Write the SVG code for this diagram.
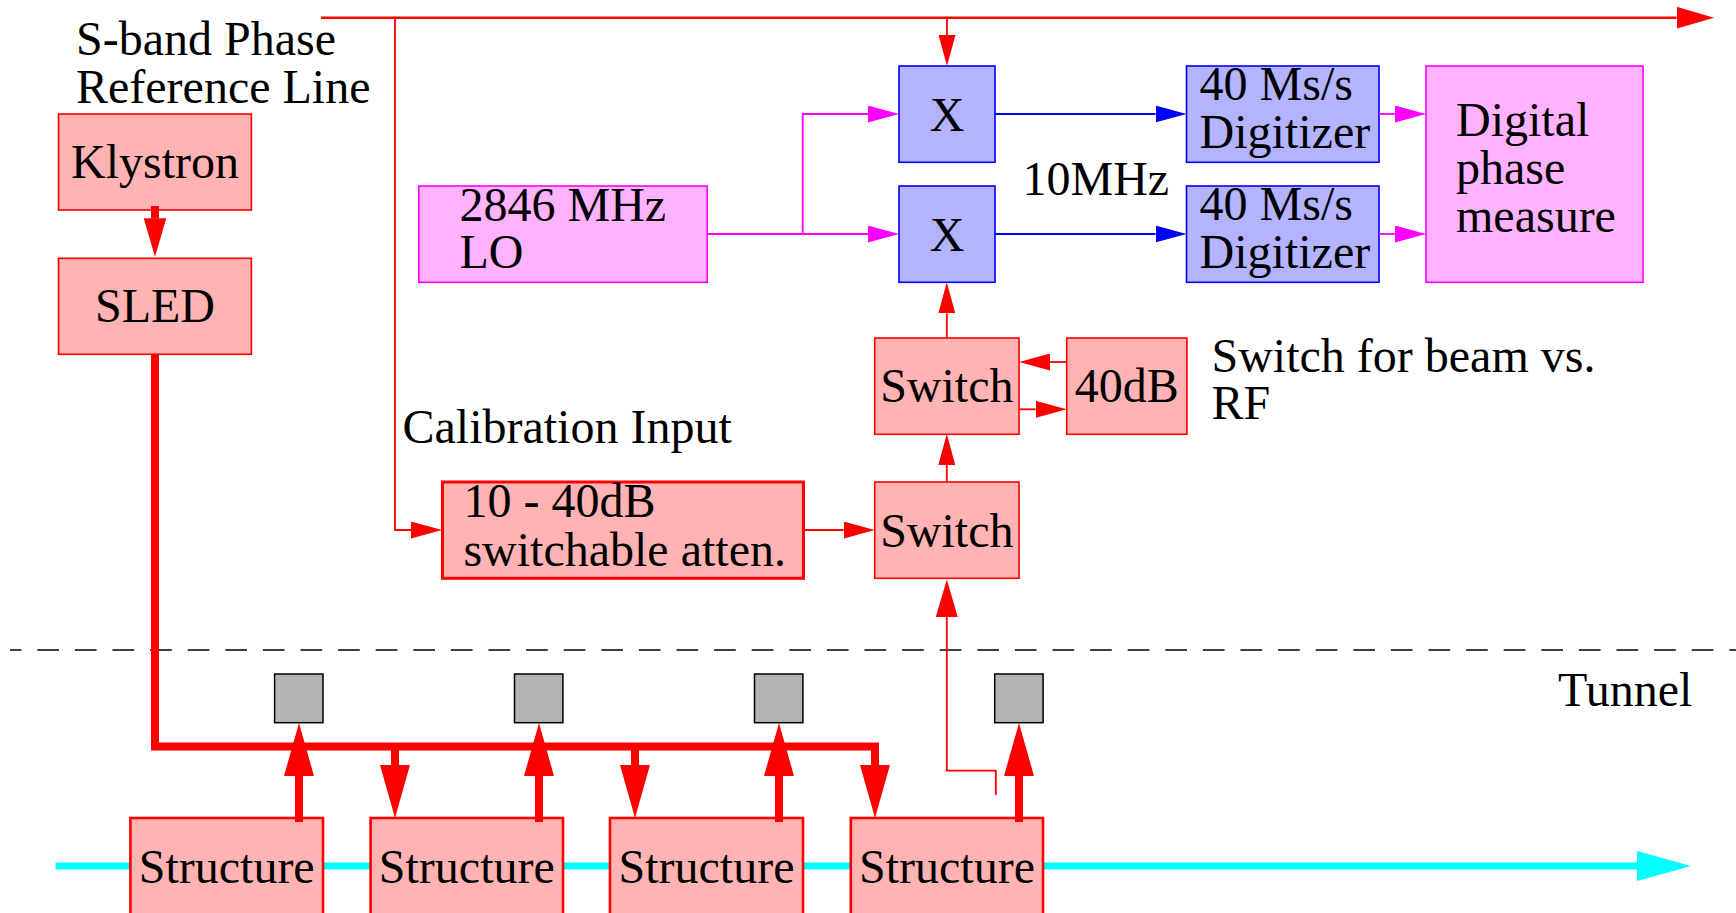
<svg xmlns="http://www.w3.org/2000/svg" width="1736" height="913" viewBox="0 0 1736 913">
<style>
text{font-family:"Liberation Serif","Times New Roman",serif;font-size:48px;fill:#000}
.mid{text-anchor:middle}
.red{fill:#ffb3b3;stroke:#ff0000;stroke-width:1.6}
.redb{fill:#ffb3b3;stroke:#ff0000;stroke-width:3}
.reds{fill:#ffb3b3;stroke:#ff0000;stroke-width:2.6}
.blu{fill:#b3b3ff;stroke:#0000ff;stroke-width:1.6}
.mag{fill:#ffb3ff;stroke:#ff00ff;stroke-width:1.6}
.gry{fill:#b3b3b3;stroke:#000;stroke-width:1.5}
.w{fill:none}
.lr{stroke:#ff0000;stroke-width:1.8}
.lrt{stroke:#ff0000;stroke-width:2.4}
.lrk{stroke:#ff0000;stroke-width:8}
.lm{stroke:#ff00ff;stroke-width:1.8}
.lb{stroke:#0000ff;stroke-width:1.8}
.lc{stroke:#00ffff;stroke-width:7}
</style>
<defs>
<marker id="aR" markerUnits="userSpaceOnUse" markerWidth="31" markerHeight="17" refX="0" refY="8.5" orient="auto"><path d="M0,0 L31,8.5 L0,17 z" fill="#ff0000"/></marker>
<marker id="aRL" markerUnits="userSpaceOnUse" markerWidth="37.5" markerHeight="22" refX="0" refY="11" orient="auto"><path d="M0,0 L37.5,11 L0,22 z" fill="#ff0000"/></marker>
<marker id="aK" markerUnits="userSpaceOnUse" markerWidth="38.5" markerHeight="22.6" refX="0" refY="11.3" orient="auto"><path d="M0,0 L38.5,11.3 L0,22.6 z" fill="#ff0000"/></marker>
<marker id="aT" markerUnits="userSpaceOnUse" markerWidth="53" markerHeight="30" refX="0" refY="15" orient="auto"><path d="M0,0 L53,15 L0,30 z" fill="#ff0000"/></marker>
<marker id="aM" markerUnits="userSpaceOnUse" markerWidth="31" markerHeight="17" refX="0" refY="8.5" orient="auto"><path d="M0,0 L31,8.5 L0,17 z" fill="#ff00ff"/></marker>
<marker id="aB" markerUnits="userSpaceOnUse" markerWidth="31" markerHeight="17" refX="0" refY="8.5" orient="auto"><path d="M0,0 L31,8.5 L0,17 z" fill="#0000ff"/></marker>
<marker id="aC" markerUnits="userSpaceOnUse" markerWidth="54" markerHeight="30" refX="0" refY="15" orient="auto"><path d="M0,0 L54,15 L0,30 z" fill="#00ffff"/></marker>
</defs>
<rect width="1736" height="913" fill="#fff"/>

<g id="beam">
<path class="w lc" d="M55.5,866 H1637" marker-end="url(#aC)"/>
</g>
<g id="tunnel-boundary">
<line x1="10" y1="650" x2="1736" y2="650" stroke="#000" stroke-width="1.6" stroke-dasharray="21.7 15.9" stroke-dashoffset="10.3"/>
</g>

<g id="labels">
<text x="76" y="55">S-band Phase</text>
<text x="76" y="103">Reference Line</text>
<text x="1022.5" y="195">10MHz</text>
<text x="402.5" y="442.7">Calibration Input</text>
<text x="1211.5" y="371.7">Switch for beam vs.</text>
<text x="1211.5" y="419">RF</text>
<text x="1558" y="706">Tunnel</text>
</g>

<g id="klystron"><rect class="red" x="58.5" y="114" width="192.9" height="96"/><text class="mid" x="155" y="178.3">Klystron</text></g>
<g id="sled"><rect class="red" x="58.5" y="258.3" width="192.9" height="96"/><text class="mid" x="155" y="321.7">SLED</text></g>
<g id="lo"><rect class="mag" x="418.8" y="186" width="288.4" height="96.3"/><text x="459.5" y="220.7">2846 MHz</text><text x="459.5" y="268.3">LO</text></g>
<g id="mixer1"><rect class="blu" x="899" y="66" width="96" height="96.3"/><text class="mid" x="947" y="130.7">X</text></g>
<g id="mixer2"><rect class="blu" x="899" y="186" width="96" height="96.3"/><text class="mid" x="947" y="250.7">X</text></g>
<g id="digitizer1"><rect class="blu" x="1186.5" y="66" width="192.5" height="96.3"/><text x="1199.6" y="100">40 Ms/s</text><text x="1199.6" y="147.7">Digitizer</text></g>
<g id="digitizer2"><rect class="blu" x="1186.5" y="186" width="192.5" height="96.3"/><text x="1199.6" y="220">40 Ms/s</text><text x="1199.6" y="267.7">Digitizer</text></g>
<g id="phase-measure"><rect class="mag" x="1426" y="66" width="217" height="216.3"/><text x="1456" y="136">Digital</text><text x="1456" y="184">phase</text><text x="1456" y="232">measure</text></g>
<g id="switch-upper"><rect class="red" x="874.7" y="338" width="144.3" height="96.3"/><text class="mid" x="946.8" y="401.7">Switch</text></g>
<g id="atten40"><rect class="red" x="1066.7" y="338" width="120.2" height="96.3"/><text class="mid" x="1126.8" y="401.7">40dB</text></g>
<g id="switch-lower"><rect class="red" x="874.7" y="482" width="144.3" height="96.3"/><text class="mid" x="946.8" y="546.7">Switch</text></g>
<g id="atten"><rect class="redb" x="442.5" y="482" width="361" height="96.3"/><text x="463.4" y="517.3">10 - 40dB</text><text x="463.4" y="565.7">switchable atten.</text></g>
<g id="structure1"><rect class="reds" x="130.4" y="818" width="192.6" height="120"/><text class="mid" x="226.7" y="883">Structure</text></g>
<g id="structure2"><rect class="reds" x="370.6" y="818" width="192.4" height="120"/><text class="mid" x="466.8" y="883">Structure</text></g>
<g id="structure3"><rect class="reds" x="610" y="818" width="193" height="120"/><text class="mid" x="706.5" y="883">Structure</text></g>
<g id="structure4"><rect class="reds" x="850.8" y="818" width="192.2" height="120"/><text class="mid" x="947" y="883">Structure</text></g>
<g id="pickup1"><rect class="gry" x="274.6" y="674" width="48.4" height="48.7"/></g>
<g id="pickup2"><rect class="gry" x="514.5" y="674" width="48.4" height="48.7"/></g>
<g id="pickup3"><rect class="gry" x="754.5" y="674" width="48.4" height="48.7"/></g>
<g id="pickup4"><rect class="gry" x="994.7" y="674" width="48.4" height="48.7"/></g>

<g id="connectors" fill="none">
<path class="lrt" d="M321,17.7 H1676.5" marker-end="url(#aRL)"/>
<path class="lr" d="M395,17.7 V530 H411" marker-end="url(#aR)"/>
<path class="lr" d="M947,17.7 V35" marker-end="url(#aR)"/>
<path class="lr" d="M946.8,482 V465" marker-end="url(#aR)"/>
<path class="lr" d="M946.8,338 V313.3" marker-end="url(#aR)"/>
<path class="lr" d="M1019,409.3 H1035.7" marker-end="url(#aR)"/>
<path class="lr" d="M1066.7,362 H1050" marker-end="url(#aR)"/>
<path class="lr" d="M803.4,530 H843.7" marker-end="url(#aR)"/>
<path class="lr" d="M995.8,795 V770.7 H946.8 V617" marker-end="url(#aRL)"/>
<path class="lm" d="M707,234 H868" marker-end="url(#aM)"/>
<path class="lm" d="M802.7,234 V114 H868" marker-end="url(#aM)"/>
<path class="lb" d="M995,114 H1155.5" marker-end="url(#aB)"/>
<path class="lb" d="M995,234 H1155.5" marker-end="url(#aB)"/>
<path class="lm" d="M1379,114 H1395" marker-end="url(#aM)"/>
<path class="lm" d="M1379,234 H1395" marker-end="url(#aM)"/>
<path class="lrk" d="M155,206 V218.3" marker-end="url(#aK)"/>
<path class="lrk" d="M155,354 V746.5 H875 V765" marker-end="url(#aT)"/>
<path class="lrk" d="M395,746.5 V765" marker-end="url(#aT)"/>
<path class="lrk" d="M635,746.5 V765" marker-end="url(#aT)"/>
<path class="lrk" d="M299,822 V776" marker-end="url(#aT)"/>
<path class="lrk" d="M539,822 V776" marker-end="url(#aT)"/>
<path class="lrk" d="M779,822 V776" marker-end="url(#aT)"/>
<path class="lrk" d="M1019,822 V776" marker-end="url(#aT)"/>
</g>
</svg>
